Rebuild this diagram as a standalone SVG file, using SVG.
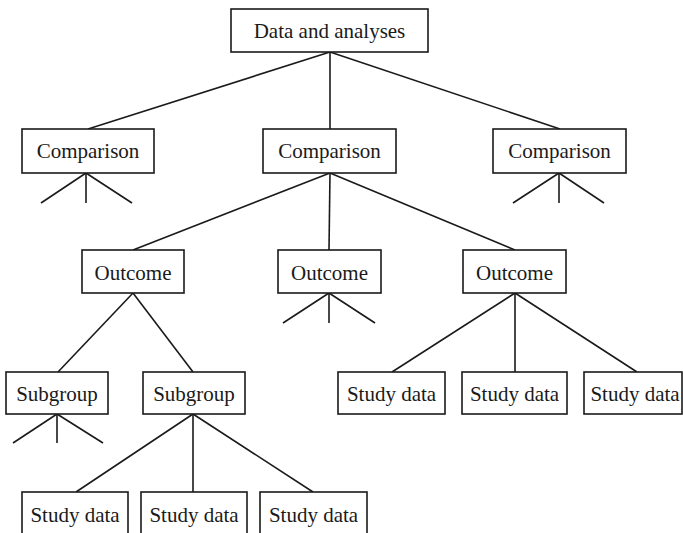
<svg xmlns="http://www.w3.org/2000/svg" width="683" height="533" viewBox="0 0 683 533">
<style>
.box{fill:#fff;stroke:#1a1a1a;stroke-width:1.6}
line{stroke:#1a1a1a;stroke-width:1.6}
text{font-family:"Liberation Serif","Times New Roman",serif;font-size:21px;fill:#1a1a1a;text-anchor:middle}
</style>
<rect width="683" height="533" fill="#fff"/>
<g id="connectors">
<line x1="330" y1="52" x2="88" y2="129"/>
<line x1="330" y1="52" x2="330" y2="129"/>
<line x1="330" y1="52" x2="560" y2="129"/>
<line x1="86" y1="173" x2="41" y2="203"/>
<line x1="86" y1="173" x2="86" y2="203"/>
<line x1="86" y1="173" x2="132" y2="203"/>
<line x1="559" y1="173" x2="513" y2="203"/>
<line x1="559" y1="173" x2="559" y2="203"/>
<line x1="559" y1="173" x2="604" y2="203"/>
<line x1="330" y1="173" x2="133" y2="250"/>
<line x1="330" y1="173" x2="329" y2="250"/>
<line x1="330" y1="173" x2="515" y2="250"/>
<line x1="329" y1="293" x2="283" y2="323"/>
<line x1="329" y1="293" x2="329" y2="323"/>
<line x1="329" y1="293" x2="375" y2="323"/>
<line x1="133" y1="293" x2="58" y2="372"/>
<line x1="133" y1="293" x2="193" y2="372"/>
<line x1="515" y1="293" x2="392" y2="372"/>
<line x1="515" y1="293" x2="515" y2="372"/>
<line x1="515" y1="293" x2="637" y2="372"/>
<line x1="57" y1="414" x2="13" y2="443"/>
<line x1="57" y1="414" x2="57" y2="443"/>
<line x1="57" y1="414" x2="103" y2="443"/>
<line x1="193" y1="414" x2="76" y2="492"/>
<line x1="193" y1="414" x2="193" y2="492"/>
<line x1="193" y1="414" x2="313" y2="492"/>
</g>
<g id="root"><rect class="box" x="231" y="9" width="197" height="43"/><text x="329.5" y="38">Data and analyses</text></g>
<g id="comparison1"><rect class="box" x="22" y="129" width="132" height="44"/><text x="88" y="158">Comparison</text></g>
<g id="comparison2"><rect class="box" x="263" y="129" width="133" height="44"/><text x="329.5" y="158">Comparison</text></g>
<g id="comparison3"><rect class="box" x="493" y="129" width="133" height="44"/><text x="559.5" y="158">Comparison</text></g>
<g id="outcome1"><rect class="box" x="82" y="250" width="102" height="43"/><text x="133" y="280">Outcome</text></g>
<g id="outcome2"><rect class="box" x="278" y="250" width="103" height="43"/><text x="329.5" y="280">Outcome</text></g>
<g id="outcome3"><rect class="box" x="463" y="250" width="103" height="43"/><text x="514.5" y="280">Outcome</text></g>
<g id="subgroup1"><rect class="box" x="6" y="372" width="102" height="42"/><text x="57" y="401">Subgroup</text></g>
<g id="subgroup2"><rect class="box" x="143" y="372" width="102" height="42"/><text x="194" y="401">Subgroup</text></g>
<g id="study1"><rect class="box" x="338" y="372" width="107" height="42"/><text x="391.5" y="401">Study data</text></g>
<g id="study2"><rect class="box" x="462" y="372" width="105" height="42"/><text x="514.5" y="401">Study data</text></g>
<g id="study3"><rect class="box" x="584" y="372" width="98" height="42"/><text x="635" y="401">Study data</text></g>
<g id="study4"><rect class="box" x="22" y="492" width="106" height="45"/><text x="75" y="522">Study data</text></g>
<g id="study5"><rect class="box" x="141" y="492" width="106" height="45"/><text x="194" y="522">Study data</text></g>
<g id="study6"><rect class="box" x="260" y="492" width="107" height="45"/><text x="313.5" y="522">Study data</text></g>
</svg>
